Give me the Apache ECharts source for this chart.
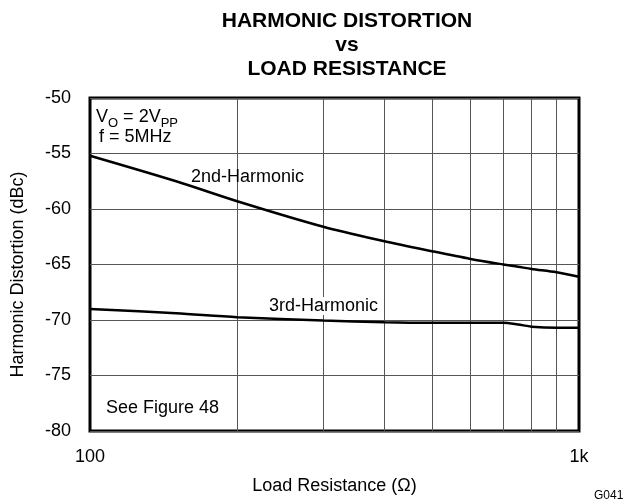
<!DOCTYPE html>
<html>
<head>
<meta charset="utf-8">
<script src="https://cdn.jsdelivr.net/npm/echarts@6/dist/echarts.min.js"></script>
<style>
  html, body { margin: 0; padding: 0; background: #fff; }
  #chart { width: 626px; height: 502px; }
</style>
</head>
<body>
<div id="chart"></div>
<script>
// Load resistance (ohms) sample points
const resistance = [100, 150, 200, 300, 400, 500, 600, 700, 750, 800, 900, 1000];
// 2nd-harmonic distortion (dBc)
const harmonic2 = [-55.2, -57.5, -59.3, -61.6, -62.9, -63.8, -64.5, -65.0, -65.2, -65.4, -65.7, -66.1];
// 3rd-harmonic distortion (dBc)
const harmonic3 = [-69.0, -69.4, -69.75, -70.05, -70.2, -70.25, -70.25, -70.25, -70.4, -70.6, -70.7, -70.7];
// Decade minor gridlines on the log axis
const minorGrid = [200, 300, 400, 500, 600, 700, 800, 900];

const FONT = '"Liberation Sans", Arial, sans-serif';

const chart = echarts.init(document.getElementById('chart'), null, { renderer: 'canvas' });

function pairs(xs, ys) { return xs.map((x, i) => [x, ys[i]]); }

chart.setOption({
  animation: false,
  backgroundColor: '#fff',
  title: {
    text: 'HARMONIC DISTORTION\nvs\nLOAD RESISTANCE',
    left: 342, top: 4, textAlign: 'center',
    textStyle: { fontFamily: FONT, fontSize: 21, fontWeight: 'bold', color: '#000', lineHeight: 24 }
  },
  grid: {
    left: 90, right: 47, top: 98, bottom: 71,
    show: true, borderColor: '#000', borderWidth: 3, backgroundColor: 'transparent'
  },
  xAxis: {
    type: 'log', logBase: 10, min: 100, max: 1000,
    name: 'Load Resistance (Ω)', nameLocation: 'middle', nameGap: 46,
    nameTextStyle: { fontFamily: FONT, fontSize: 18, color: '#000' },
    axisLine: { show: false }, axisTick: { show: false },
    splitLine: { show: false },
    axisLabel: {
      fontFamily: FONT, fontSize: 18, color: '#000', margin: 17,
      formatter: v => (v >= 1000 ? (v / 1000) + 'k' : String(v))
    }
  },
  yAxis: {
    type: 'value', min: -80, max: -50, interval: 5,
    name: 'Harmonic Distortion (dBc)', nameLocation: 'middle', nameGap: 63,
    nameTextStyle: { fontFamily: FONT, fontSize: 18, color: '#000', padding: [0, 20, 0, 0] },
    axisLine: { show: false }, axisTick: { show: false },
    splitLine: { show: true, lineStyle: { color: '#555', width: 1 } },
    axisLabel: { fontFamily: FONT, fontSize: 18, color: '#000', margin: 19 }
  },
  series: [
    {
      name: '2nd-Harmonic', type: 'line', data: pairs(resistance, harmonic2),
      smooth: 0.3, showSymbol: false, lineStyle: { color: '#000', width: 2.5 },
      z: 5,
      markLine: {
        silent: true, symbol: 'none', label: { show: false },
        lineStyle: { color: '#555', width: 1, type: 'solid' },
        data: minorGrid.map(v => ({ xAxis: v }))
      }
    },
    {
      name: '3rd-Harmonic', type: 'line', data: pairs(resistance, harmonic3),
      smooth: 0.3, showSymbol: false, lineStyle: { color: '#000', width: 2.5 },
      z: 5
    }
  ],
  graphic: [
    {
      type: 'text', left: 96, top: 108, z: 10,
      style: {
        text: '{m|V}{s|O}{m| = 2V}{s|PP}',
        rich: {
          m: { fontFamily: FONT, fontSize: 18, fill: '#000', verticalAlign: 'bottom', lineHeight: 22 },
          s: { fontFamily: FONT, fontSize: 13, fill: '#000', verticalAlign: 'bottom', lineHeight: 22, padding: [0, 0, -4, 0] }
        }
      }
    },
    { type: 'text', left: 99, top: 128, z: 10,
      style: { text: 'f = 5MHz', font: '18px ' + FONT, fill: '#000' } },
    { type: 'text', left: 191, top: 168, z: 10,
      style: { text: '2nd-Harmonic', font: '18px ' + FONT, fill: '#000' } },
    { type: 'text', left: 269, top: 297, z: 10,
      style: { text: '3rd-Harmonic', font: '18px ' + FONT, fill: '#000', backgroundColor: '#fff' } },
    { type: 'text', left: 106, top: 399, z: 10,
      style: { text: 'See Figure 48', font: '18px ' + FONT, fill: '#000' } },
    { type: 'text', left: 594, top: 490, z: 10,
      style: { text: 'G041', font: '12px ' + FONT, fill: '#000' } }
  ]
});
</script>
</body>
</html>
